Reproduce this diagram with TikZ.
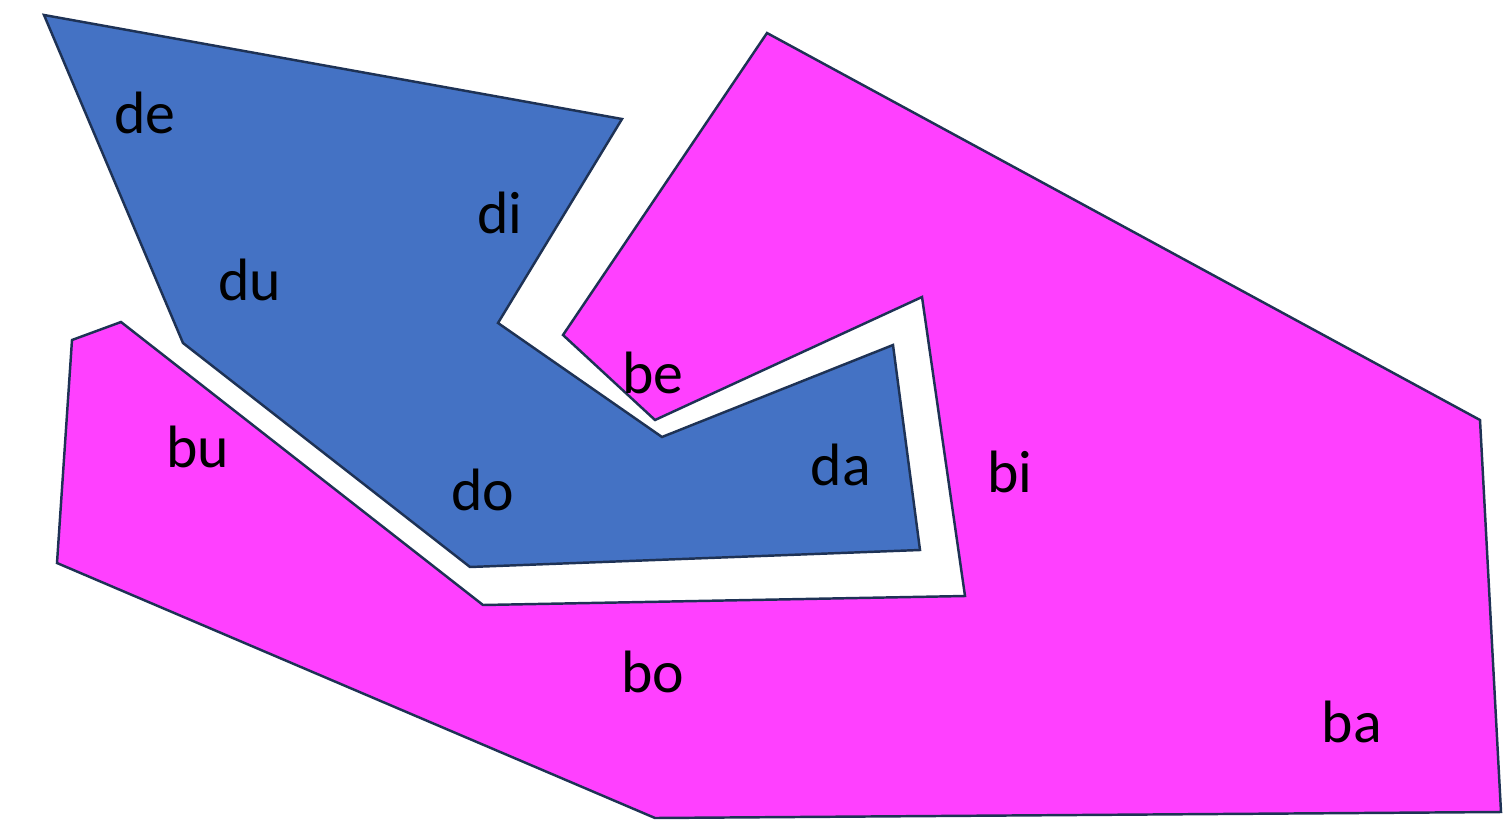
\documentclass[tikz,border=0pt]{standalone}
\usepackage{fontspec}
\setmainfont{Carlito}
\usepackage{tikz}
\usetikzlibrary{positioning}
\definecolor{dshape}{RGB}{68,114,196}
\definecolor{bshape}{RGB}{255,64,255}
\definecolor{edge}{RGB}{30,50,85}

\begin{document}
\begin{tikzpicture}[
  x=0.01cm, y=-0.01cm,
  every node/.style={font=\fontsize{17}{20}\selectfont, text=black},
  piece/.style={draw=edge, line width=0.7pt, line join=miter}
]
\useasboundingbox (0,0) rectangle (1503,821);

% blue piece
\filldraw[piece, fill=dshape]
  (44,15) -- (622,119) -- (498,323) -- (662,437) -- (893,345)
  -- (920,550) -- (470,567) -- (183,343) -- cycle;

% magenta piece
\filldraw[piece, fill=bshape]
  (767,33) -- (1480,420) -- (1501,812) -- (655,818) -- (57,563)
  -- (72,340) -- (121,322) -- (483,605) -- (965,596) -- (922,297)
  -- (655,420) -- (563,335) -- cycle;

% labels
\node (de) at (145,113) {de};
\node (di) at (500,213) {di};
\node (du) at (250,280) {du};
\node (be) at (653,373) {be};
\node (bu) at (198,447) {bu};
\node (do) at (483,490) {do};
\node (da) at (841,465) {da};
\node (bi) at (1010,472) {bi};
\node (bo) at (653,672) {bo};
\node (ba) at (1352,722) {ba};

\end{tikzpicture}
\end{document}
